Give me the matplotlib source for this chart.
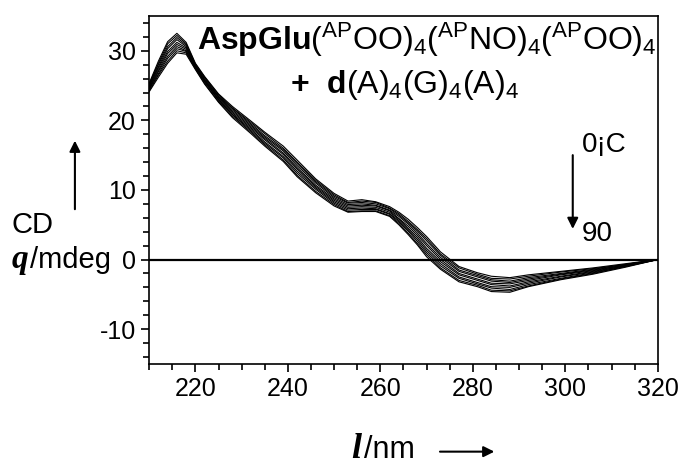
import numpy as np
import matplotlib
matplotlib.use('Agg')
import matplotlib.pyplot as plt
from matplotlib.ticker import MultipleLocator

plt.rcParams['font.family'] = 'Liberation Sans'
plt.rcParams['axes.unicode_minus'] = False
plt.rcParams['mathtext.fontset'] = 'custom'
plt.rcParams['mathtext.rm'] = 'Liberation Sans'
plt.rcParams['mathtext.bf'] = 'Liberation Sans:bold'
plt.rcParams['mathtext.it'] = 'Liberation Sans:italic'

# wavelength grid (nm)
wl = [210, 212, 214, 216, 218, 220, 222, 225, 228, 232, 235, 239, 242, 246, 250, 253, 256,
      259, 262, 264, 266, 268, 270, 273, 277, 281, 284, 288, 292, 299, 306, 313, 320]

# CD (mdeg), 0 -> 90 C
cd_0 = [25.3, 28.5, 31.3, 32.5, 31.2, 28.2, 26.3, 23.8, 22.0, 19.9, 18.3, 16.3, 14.3, 11.6, 9.5, 8.4, 8.6,
        8.3, 7.6, 6.8, 5.8, 4.6, 3.3, 1.1, -1.0, -1.9, -2.4, -2.6, -2.2, -1.7, -1.2, -0.6, 0.0]
cd_10 = [25.2, 28.2, 31.0, 32.2, 31.0, 28.1, 26.2, 23.7, 21.8, 19.7, 18.1, 16.0, 14.0, 11.4, 9.3, 8.2, 8.4,
         8.2, 7.4, 6.6, 5.5, 4.3, 3.0, 0.8, -1.2, -2.1, -2.7, -2.8, -2.4, -1.8, -1.3, -0.7, 0.0]
cd_20 = [25.0, 28.0, 30.6, 31.9, 30.8, 27.9, 26.1, 23.5, 21.7, 19.5, 17.8, 15.8, 13.8, 11.2, 9.1, 8.1, 8.2,
         8.0, 7.3, 6.4, 5.3, 4.1, 2.7, 0.6, -1.5, -2.3, -2.9, -3.1, -2.6, -2.0, -1.4, -0.7, 0.0]
cd_30 = [24.9, 27.7, 30.3, 31.6, 30.6, 27.9, 25.9, 23.4, 21.5, 19.3, 17.6, 15.6, 13.5, 11.0, 8.9, 7.9, 8.0,
         7.8, 7.1, 6.2, 5.1, 3.8, 2.3, 0.3, -1.7, -2.5, -3.1, -3.3, -2.8, -2.1, -1.5, -0.8, 0.0]
cd_40 = [24.8, 27.5, 29.9, 31.2, 30.4, 27.8, 25.8, 23.3, 21.3, 19.1, 17.4, 15.3, 13.2, 10.7, 8.7, 7.7, 7.8,
         7.7, 7.0, 5.9, 4.8, 3.5, 2.0, 0.0, -2.0, -2.8, -3.4, -3.5, -3.0, -2.2, -1.6, -0.8, 0.0]
cd_50 = [24.6, 27.2, 29.6, 30.9, 30.2, 27.7, 25.7, 23.1, 21.1, 18.9, 17.2, 15.1, 13.0, 10.5, 8.5, 7.5, 7.6,
         7.5, 6.8, 5.8, 4.5, 3.2, 1.6, -0.3, -2.2, -3.0, -3.6, -3.8, -3.2, -2.4, -1.7, -0.9, 0.0]
cd_60 = [24.5, 27.0, 29.2, 30.6, 30.0, 27.6, 25.6, 23.0, 20.9, 18.7, 16.9, 14.8, 12.7, 10.3, 8.3, 7.3, 7.4,
         7.3, 6.6, 5.6, 4.3, 2.9, 1.3, -0.6, -2.5, -3.3, -3.9, -4.0, -3.4, -2.5, -1.8, -0.9, 0.0]
cd_70 = [24.4, 26.7, 28.9, 30.3, 29.9, 27.5, 25.5, 22.9, 20.8, 18.5, 16.7, 14.6, 12.4, 10.1, 8.1, 7.1, 7.2,
         7.2, 6.5, 5.4, 4.1, 2.6, 1.0, -0.9, -2.7, -3.5, -4.1, -4.3, -3.6, -2.7, -1.9, -1.0, 0.0]
cd_80 = [24.2, 26.5, 28.5, 30.0, 29.7, 27.4, 25.3, 22.7, 20.6, 18.3, 16.5, 14.3, 12.1, 9.8, 7.9, 6.9, 7.0,
         7.0, 6.3, 5.2, 3.8, 2.3, 0.7, -1.2, -3.0, -3.7, -4.4, -4.5, -3.8, -2.8, -2.0, -1.0, 0.0]
cd_90 = [24.1, 26.2, 28.2, 29.7, 29.5, 27.3, 25.2, 22.6, 20.4, 18.1, 16.3, 14.1, 11.9, 9.6, 7.7, 6.8, 6.9,
         6.9, 6.2, 5.0, 3.6, 2.1, 0.4, -1.4, -3.2, -3.9, -4.6, -4.7, -3.9, -2.9, -2.1, -1.1, 0.0]

curves = [cd_0, cd_10, cd_20, cd_30, cd_40, cd_50, cd_60, cd_70, cd_80, cd_90]

fig = plt.figure(figsize=(6.81, 4.69), dpi=100)
ax = fig.add_axes([0.219, 0.224, 0.747, 0.742])

for c in curves:
    ax.plot(wl, c, color='black', lw=0.8)
ax.axhline(0, color='black', lw=1.6)

ax.set_xlim(210, 320)
ax.set_ylim(-15, 35)
ax.xaxis.set_major_locator(MultipleLocator(20))
ax.xaxis.set_minor_locator(MultipleLocator(5))
ax.yaxis.set_major_locator(MultipleLocator(10))
ax.yaxis.set_minor_locator(MultipleLocator(2))
ax.tick_params(which='both', direction='out', top=False, right=False, width=1.2, labelsize=18)
ax.tick_params(which='major', length=6)
ax.tick_params(which='minor', length=4)
for s in ax.spines.values():
    s.set_linewidth(1.2)

# title lines
fig.text(0.289, 0.893,
         r'$\mathbf{AspGlu}\mathrm{(^{AP}OO)_4(^{AP}NO)_4(^{AP}OO)_4}$',
         ha='left', va='baseline', fontsize=23)
fig.text(0.426, 0.802,
         r'$\mathbf{+\ \ d}\mathrm{(A)_4(G)_4(A)_4}$',
         ha='left', va='baseline', fontsize=23)

# temperature arrow
ax.annotate('', xy=(301.6, 4.0), xytext=(301.6, 15.4),
            arrowprops=dict(arrowstyle='-|>', color='black', lw=1.5, mutation_scale=16))
ax.text(303.6, 15.4, '0¡C', fontsize=20, ha='left', va='baseline')
ax.text(303.6, 2.6, '90', fontsize=20, ha='left', va='baseline')

# y label
fig.text(0.017, 0.503, 'CD', fontsize=21, ha='left', va='baseline')
fig.text(0.017, 0.4286, 'q', fontsize=24, ha='left', va='baseline',
         family='Liberation Serif', weight='bold', style='italic')
fig.text(0.044, 0.4286, '/mdeg', fontsize=21, ha='left', va='baseline')
ax.annotate('', xy=(0.110, 0.706), xytext=(0.110, 0.548), xycoords='figure fraction',
            textcoords='figure fraction', annotation_clip=False,
            arrowprops=dict(arrowstyle='-|>', color='black', lw=1.5, mutation_scale=16))

# x label
fig.text(0.515, 0.024, 'l', fontsize=26, ha='left', va='baseline',
         family='Liberation Serif', weight='bold', style='italic')
fig.text(0.535, 0.024, '/nm', fontsize=22, ha='left', va='baseline')
ax.annotate('', xy=(0.730, 0.037), xytext=(0.642, 0.037), xycoords='figure fraction',
            textcoords='figure fraction', annotation_clip=False,
            arrowprops=dict(arrowstyle='-|>', color='black', lw=1.5, mutation_scale=16))

fig.savefig('out.png', dpi=100)
